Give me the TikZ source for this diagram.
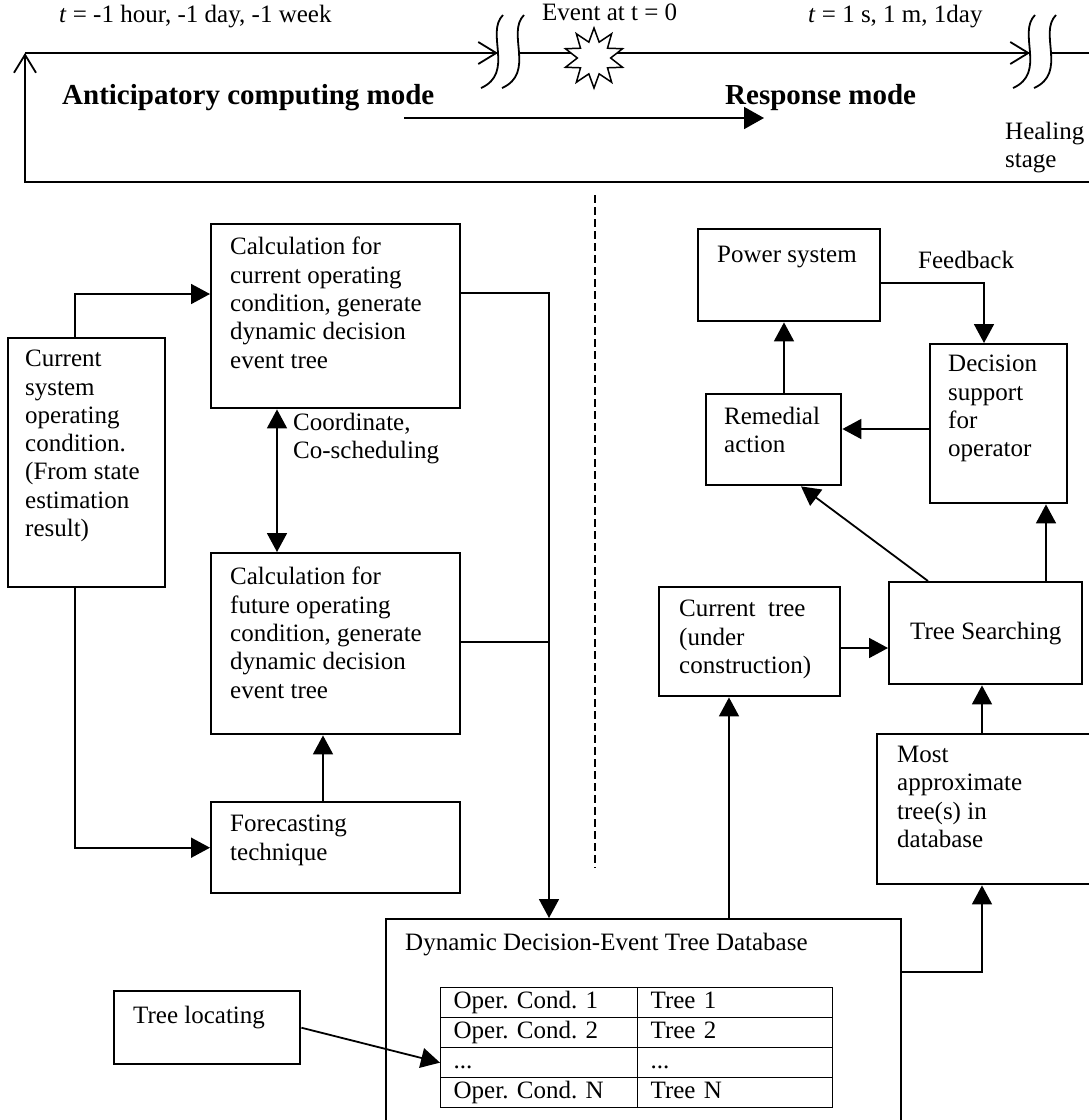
\documentclass[tikz,border=0pt]{standalone}
\usepackage{fontspec}
\setmainfont{Liberation Serif}
\usetikzlibrary{arrows.meta,shapes.geometric}
\setlength{\parindent}{0pt}
\frenchspacing

\tikzset{
  frame/.style={draw, line width=2.4pt, inner sep=0pt, anchor=north west},
  body/.style={font=\fontsize{25}{28.3}\selectfont, inner sep=0pt},
  para/.style={body, align=left, anchor=north west, execute at begin node=\strut},
  lbl/.style={body, anchor=base west},
  headline/.style={font=\fontsize{29}{33}\selectfont\bfseries, inner sep=0pt, anchor=base west},
  wire/.style={line width=1.8pt},
  link/.style={wire, -{Triangle[length=19pt,width=20pt]}},
  twolink/.style={wire, {Triangle[length=19pt,width=20pt]}-{Triangle[length=19pt,width=20pt]}},
  axis/.style={line width=1.8pt},
  openhead/.style={-{Straight Barb[length=18pt,width=22pt,line width=1.8pt]}},
  cell/.style={draw, line width=1.3pt, minimum height=30pt, inner xsep=13pt, inner ysep=0pt,
    body, align=left, anchor=north west, execute at begin node=\strut},
  timebreak/.pic={
    \draw[line width=1.8pt] (5,-38) .. controls (-13,-20) and (17,20) .. (-17,35);
    \draw[line width=1.8pt] (26,-38) .. controls (8,-20) and (38,20) .. (4,35);
  },
}

\begin{document}
\begin{tikzpicture}[x=1pt,y=-1pt]
\useasboundingbox (0,0) rectangle (1089,1120);
\fill[white] (0,0) rectangle (1089,1120);
\clip (0,0) rectangle (1089,1120);

% ---------- time axis ----------
\coordinate (axBL) at (25,182);
\coordinate (axBR) at (1089,182);
\coordinate (axTL) at (25,53);
\coordinate (brkA) at (498,53);
\coordinate (resA) at (519,53);
\coordinate (brkB) at (1030,53);
\coordinate (resB) at (1051,53);
\coordinate (axTR) at (1089,53);
\draw[axis, openhead] (axBR) -- (axBL) -- (axTL);
\draw[axis, openhead] (axTL) -- (brkA);
\draw[axis, openhead] (resA) -- (brkB);
\draw[axis] (resB) -- (axTR);
\pic at (brkA) {timebreak};
\pic at (brkB) {timebreak};
\node[star, star points=10, star point ratio=1.8, draw, fill=white, line width=1.5pt,
      minimum size=60pt, inner sep=0pt] (burst) at (594,58) {};

\node[lbl] (tpast) at (59,22) {\textit{t} = -1 hour, -1 day, -1 week};
\node[lbl] (tevent) at (542,20) {Event at t = 0};
\node[lbl] (tfuture) at (808,22) {\textit{t} = 1 s, 1 m, 1day};
\node[headline] (antic) at (62,104) {Anticipatory computing mode};
\node[headline] (resp) at (725,104) {Response mode};
\node[para] (heal) at (1005,122) {Healing\\stage};

\coordinate (modeS) at (404,118);
\coordinate (modeE) at (764,118);
\draw[axis, -{Triangle[length=20pt,width=22pt]}] (modeS) -- (modeE);

% ---------- separator ----------
\coordinate (sepT) at (595,195);
\coordinate (sepB) at (595,868);
\draw[line width=1.6pt, dash pattern=on 8pt off 4pt] (sepT) -- (sepB);

% ---------- anticipatory side ----------
\node[frame, minimum width=157pt, minimum height=249pt] (cur) at (7,337) {};
\node[para] (curtxt) at (25,350) {Current\\system\\operating\\condition.\\(From state\\estimation\\result)};

\node[frame, minimum width=249pt, minimum height=184pt] (calcA) at (210,223) {};
\node[para] (calcAtxt) at (230,237) {Calculation for\\current operating\\condition, generate\\dynamic decision\\event tree};

\node[frame, minimum width=249pt, minimum height=181pt] (calcB) at (210,552) {};
\node[para] (calcBtxt) at (230,567) {Calculation for\\future operating\\condition, generate\\dynamic decision\\event tree};

\node[frame, minimum width=249pt, minimum height=91pt] (fore) at (210,801) {};
\node[para] (foretxt) at (230,815) {Forecasting\\technique};

\node[para] (coord) at (293,413) {Coordinate,\\Co-scheduling};

% ---------- response side ----------
\node[frame, minimum width=182pt, minimum height=92pt] (power) at (697,228) {};
\node[para] (powertxt) at (717,242) {Power system};
\node[lbl] (fb) at (918,268) {Feedback};

\node[frame, minimum width=137pt, minimum height=159pt] (decis) at (929,343) {};
\node[para] (decistxt) at (948,355) {Decision\\support\\for\\operator};

\node[frame, minimum width=135pt, minimum height=91pt] (remed) at (705,393) {};
\node[para] (remedtxt) at (724,407) {Remedial\\action};

\node[frame, minimum width=181pt, minimum height=109pt] (ctree) at (658,586) {};
\node[para] (ctreetxt) at (679,600) {Current\ \ tree\\(under\\construction)};

\node[frame, body, minimum width=193pt, minimum height=102pt] (tsearch) at (888,581) {Tree Searching};

\node[frame, minimum width=240pt, minimum height=150pt] (most) at (876,733) {};
\node[para] (mosttxt) at (897,746) {Most\\approximate\\tree(s) in\\database};

% ---------- database ----------
\node[frame, minimum width=515pt, minimum height=240pt] (db) at (385,918) {};
\node[lbl] (dbtxt) at (405,950) {Dynamic Decision-Event Tree Database};

\node[cell, minimum width=197pt, text width=171pt] (r1a) at (440,987) {Oper. Cond. 1};
\node[cell, minimum width=195pt, text width=169pt] (r1b) at (637,987) {Tree 1};
\node[cell, minimum width=197pt, text width=171pt] (r2a) at (440,1017) {Oper. Cond. 2};
\node[cell, minimum width=195pt, text width=169pt] (r2b) at (637,1017) {Tree 2};
\node[cell, minimum width=197pt, text width=171pt] (r3a) at (440,1047) {...};
\node[cell, minimum width=195pt, text width=169pt] (r3b) at (637,1047) {...};
\node[cell, minimum width=197pt, text width=171pt] (r4a) at (440,1077) {Oper. Cond. N};
\node[cell, minimum width=195pt, text width=169pt] (r4b) at (637,1077) {Tree N};

\node[frame, minimum width=186pt, minimum height=73pt] (tloc) at (113,990) {};
\node[lbl] (tloctxt) at (133,1023) {Tree locating};

% ---------- connectors ----------
\draw[link] (75,0 |- cur.north) |- (calcA.west |- 0,294);
\draw[link] (75,0 |- cur.south) |- (fore.west);
\draw[link] (323,0 |- fore.north) -- (323,0 |- calcB.south);
\draw[twolink] (277,0 |- calcA.south) -- (277,0 |- calcB.north);
\draw[link] (calcA.east |- 0,293) -| (549,0 |- db.north);
\draw[wire] (calcB.east |- 0,642) -- (549,642);

\draw[link] (784,0 |- remed.north) -- (784,0 |- power.south);
\draw[link] (power.east |- 0,283) -| (984,0 |- decis.north);
\draw[link] (decis.west |- 0,429) -- (remed.east |- 0,429);
\draw[link] (928,0 |- tsearch.north) -- (801,0 |- remed.south);
\draw[link] (1046,0 |- tsearch.north) -- (1046,0 |- decis.south);
\draw[link] (ctree.east |- 0,648) -- (tsearch.west |- 0,648);
\draw[link] (982,0 |- most.north) -- (982,0 |- tsearch.south);
\draw[link] (729,0 |- db.north) -- (729,0 |- ctree.south);
\draw[link] (db.east |- 0,972) -| (982,0 |- most.south);
\draw[link] (tloc.east) -- (r3a.west);
\end{tikzpicture}
\end{document}
